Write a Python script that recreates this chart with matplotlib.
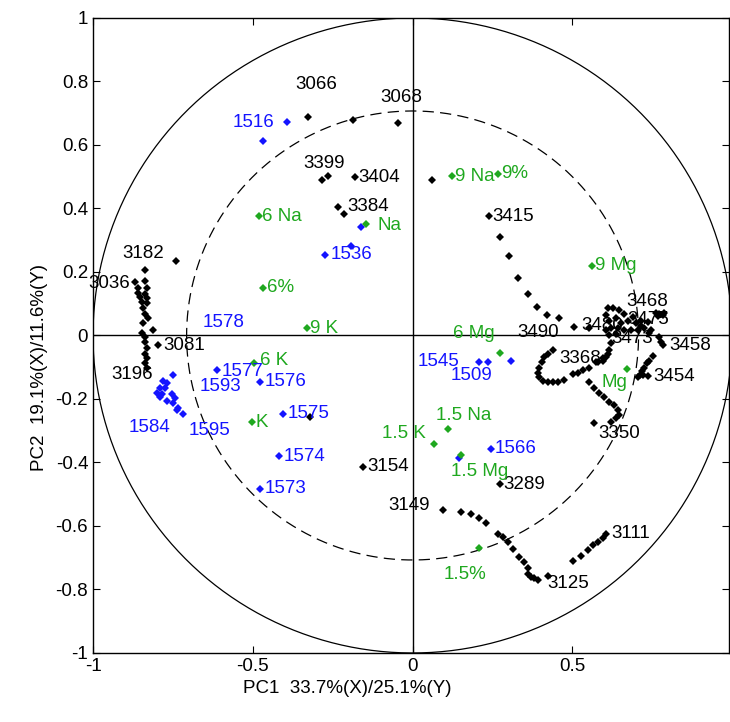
import numpy as np
import matplotlib.pyplot as plt

plt.rcParams['font.family'] = ['Liberation Sans', 'DejaVu Sans']

# black loadings (Y variables)
black_x = [-0.326, -0.188, -0.047, -0.282, -0.266, -0.179, -0.232, -0.216, -0.740,
           -0.837, -0.868, -0.837, -0.859, -0.831, -0.859, -0.837, -0.853, -0.831, -0.846,
           -0.831, -0.843, -0.837, -0.828, -0.843, -0.812, -0.846, -0.837, -0.837, -0.796,
           -0.831, -0.837, -0.831, -0.837, -0.831,
           0.238, 0.273, 0.301, 0.329, 0.361, 0.389, 0.420, 0.458, 0.505, 0.552,
           0.611, 0.627, 0.646, 0.661, 0.605, 0.614, 0.636, 0.652, 0.674, 0.690, 0.699,
           0.715, 0.724, 0.740, 0.705, 0.683, 0.661, 0.636, 0.614, 0.605, 0.621, 0.643,
           0.715, 0.737, 0.746,
           0.762, 0.771, 0.784, 0.768, 0.787,
           0.771, 0.777, 0.784,
           0.752, 0.740, 0.734, 0.724, 0.718, 0.712, 0.705, 0.721, 0.737,
           0.614, 0.605, 0.596, 0.580,
           0.439, 0.423, 0.411, 0.404, 0.395, 0.392, 0.395, 0.408, 0.423, 0.439, 0.455,
           0.473, 0.502, 0.517, 0.533, 0.552, 0.574, 0.596, 0.611, 0.621,
           0.552, 0.567, 0.583, 0.599, 0.614, 0.630, 0.643, 0.646, 0.636, 0.621, 0.567,
           0.273, -0.154, -0.320,
           0.094, 0.150, 0.182, 0.207, 0.229, 0.266, 0.282, 0.298, 0.313, 0.332, 0.348,
           0.361, 0.361, 0.370, 0.379, 0.392, 0.423,
           0.502, 0.527, 0.549, 0.564, 0.580, 0.596, 0.605,
           0.060]
black_y = [0.687, 0.680, 0.668, 0.491, 0.501, 0.498, 0.406, 0.384, 0.236,
           0.205, 0.170, 0.173, 0.151, 0.148, 0.135, 0.132, 0.120, 0.117, 0.104,
           0.101, 0.085, 0.069, 0.054, 0.038, 0.016, 0.009, -0.006, -0.022, -0.031,
           -0.041, -0.057, -0.072, -0.088, -0.101,
           0.375, 0.309, 0.249, 0.180, 0.132, 0.091, 0.066, 0.054, 0.028, 0.025,
           0.085, 0.088, 0.079, 0.069, 0.063, 0.047, 0.054, 0.038, 0.047, 0.057, 0.038,
           0.031, 0.022, 0.009, 0.016, 0.016, 0.016, 0.006, 0.000, 0.016, 0.025, 0.025,
           0.047, 0.041, 0.016,
           0.072, 0.069, 0.063, 0.060, 0.072,
           -0.006, -0.022, -0.031,
           -0.066, -0.079, -0.088, -0.101, -0.113, -0.123, -0.132, -0.126, -0.129,
           -0.047, -0.069, -0.079, -0.085,
           -0.047, -0.057, -0.069, -0.085, -0.101, -0.117, -0.132, -0.142, -0.148, -0.148, -0.145,
           -0.139, -0.120, -0.117, -0.110, -0.101, -0.085, -0.072, -0.057, -0.025,
           -0.148, -0.164, -0.180, -0.195, -0.211, -0.220, -0.236, -0.252, -0.261, -0.274, -0.277,
           -0.469, -0.413, -0.258,
           -0.551, -0.557, -0.561, -0.576, -0.592, -0.624, -0.636, -0.652, -0.671, -0.699, -0.715,
           -0.731, -0.750, -0.762, -0.765, -0.769, -0.756,
           -0.709, -0.693, -0.677, -0.661, -0.652, -0.639, -0.624,
           0.491]

# blue loadings
blue_x = [-0.392, -0.467, -0.273, -0.194, -0.160, -0.611, -0.476, -0.404, -0.417, -0.476,
          -0.749, -0.781, -0.768, -0.790, -0.774, -0.799, -0.784, -0.752, -0.790, -0.743,
          -0.768, -0.749, -0.734, -0.737, -0.718,
          0.207, 0.235, 0.307, 0.245, 0.144]
blue_y = [0.671, 0.614, 0.255, 0.283, 0.343, -0.110, -0.145, -0.246, -0.381, -0.482,
          -0.126, -0.142, -0.151, -0.164, -0.167, -0.180, -0.183, -0.183, -0.195, -0.198,
          -0.205, -0.214, -0.227, -0.236, -0.246,
          -0.085, -0.085, -0.079, -0.356, -0.387]

# green loadings (design variables)
green_x = [-0.147, -0.480, -0.467, -0.329, -0.495, -0.502, 0.122, 0.266, 0.561,
           0.273, 0.671, 0.110, 0.066, 0.150, 0.207]
green_y = [0.350, 0.375, 0.151, 0.022, -0.088, -0.274, 0.501, 0.510, 0.220,
           -0.054, -0.107, -0.296, -0.343, -0.375, -0.668]

# label text and anchor (left edge, middle)
black_labels = ['3066', '3068', '3399', '3404', '3384', '3182', '3036', '3081', '3196',
                '3415', '3480', '3468', '3475', '3473', '3458', '3454', '3490', '3368',
                '3350', '3289', '3154', '3149', '3125', '3111']
black_lx = [-0.367, -0.100, -0.342, -0.169, -0.204, -0.909, -1.016, -0.781, -0.944,
            0.251, 0.527, 0.668, 0.672, 0.621, 0.803, 0.752, 0.329, 0.458,
            0.580, 0.285, -0.141, -0.075, 0.423, 0.621]
black_ly = [0.791, 0.750, 0.542, 0.498, 0.406, 0.258, 0.164, -0.031, -0.123,
            0.375, 0.031, 0.108, 0.050, -0.009, -0.031, -0.129, 0.009, -0.072,
            -0.309, -0.469, -0.413, -0.535, -0.781, -0.624]

blue_labels = ['1516', '1536', '1578', '1577', '1593', '1576', '1575', '1574', '1573',
               '1584', '1595', '1545', '1509', '1566']
blue_lx = [-0.564, -0.257, -0.658, -0.599, -0.665, -0.464, -0.392, -0.404, -0.464,
           -0.890, -0.702, 0.016, 0.119, 0.257]
blue_ly = [0.671, 0.255, 0.041, -0.113, -0.160, -0.145, -0.246, -0.381, -0.482,
           -0.290, -0.299, -0.082, -0.126, -0.356]

green_labels = ['Na', '6 Na', '6%', '9 K', '6 K', 'K', '9 Na', '9%', '9 Mg', '6 Mg',
                'Mg', '1.5 Na', '1.5 K', '1.5 Mg', '1.5%']
green_lx = [-0.110, -0.470, -0.455, -0.320, -0.478, -0.492, 0.132, 0.276, 0.571, 0.125,
            0.592, 0.072, -0.097, 0.119, 0.097]
green_ly = [0.346, 0.375, 0.151, 0.022, -0.080, -0.274, 0.501, 0.510, 0.220, 0.006,
            -0.148, -0.252, -0.309, -0.428, -0.753]

BLUE = '#1414ff'
GREEN = '#1fa81f'

fig = plt.figure(figsize=(7.3, 7.22), dpi=100)
ax = fig.add_axes([0.1274, 0.0956, 0.8712, 0.8795])

# correlation circles
t = np.linspace(0, 2 * np.pi, 400)
ax.plot(np.cos(t), np.sin(t), color='black', lw=0.9)
r = np.sqrt(0.5)
ax.plot(r * np.cos(t), r * np.sin(t), color='black', lw=0.9, dashes=(9, 5))
ax.axhline(0, color='black', lw=1.0)
ax.axvline(0, color='black', lw=1.0)

ax.plot(black_x, black_y, 'D', color='black', ms=4.2, mew=0)
ax.plot(blue_x, blue_y, 'D', color=BLUE, ms=4.2, mew=0)
ax.plot(green_x, green_y, 'D', color=GREEN, ms=4.2, mew=0)

fs = 13.5
for s, x, y in zip(black_labels, black_lx, black_ly):
    ax.text(x, y, s, color='black', fontsize=fs, ha='left', va='center')
for s, x, y in zip(blue_labels, blue_lx, blue_ly):
    ax.text(x, y, s, color=BLUE, fontsize=fs, ha='left', va='center')
for s, x, y in zip(green_labels, green_lx, green_ly):
    ax.text(x, y, s, color=GREEN, fontsize=fs, ha='left', va='center')

ax.set_xlim(-1, 0.99)
ax.set_ylim(-1, 1)
ax.set_xticks([-1, -0.5, 0, 0.5])
ax.set_xticklabels(['-1', '-0.5', '0', '0.5'])
ax.set_yticks(np.round(np.arange(-1, 1.01, 0.2), 1))
ax.set_yticklabels(['-1', '-0.8', '-0.6', '-0.4', '-0.2', '0', '0.2', '0.4', '0.6', '0.8', '1'])
ax.tick_params(direction='in', top=True, right=True, length=5, labelsize=fs)
for sp in ax.spines.values():
    sp.set_linewidth(1.0)

ax.set_xlabel('PC1  33.7%(X)/25.1%(Y)', fontsize=fs)
ax.set_ylabel('PC2  19.1%(X)/11.6%(Y)', fontsize=fs)
ax.xaxis.set_label_coords(0.40, -0.042)
ax.yaxis.set_label_coords(-0.071, 0.45)

fig.savefig('out.png', dpi=100)
